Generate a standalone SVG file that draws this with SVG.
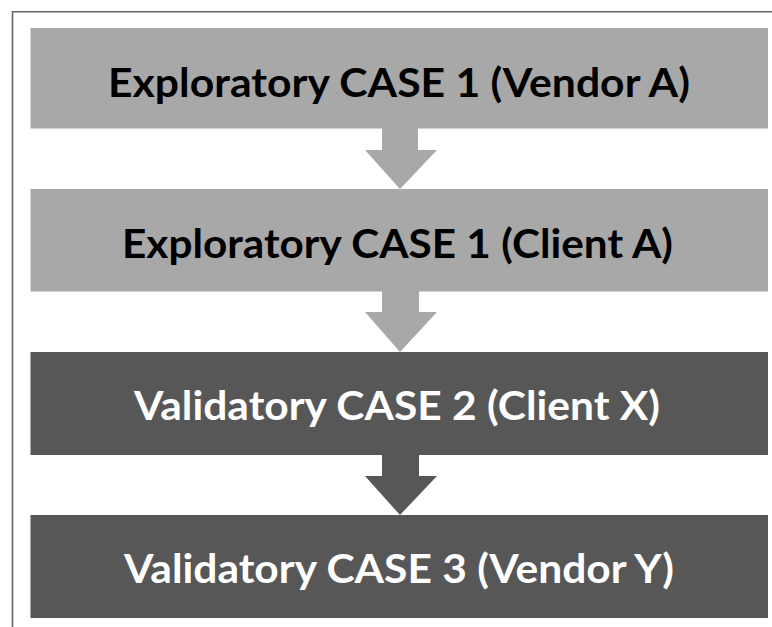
<svg xmlns="http://www.w3.org/2000/svg" width="772" height="627" viewBox="0 0 772 627">
  <style>
    .frame { fill: none; stroke: #666666; stroke-width: 1.6; }
    .light { fill: #a8a8a8; }
    .dark { fill: #575757; }
    .label { font-family: Lato, "Open Sans", "Liberation Sans", sans-serif; font-weight: bold; font-size: 40px; text-anchor: middle; }
    .on-light { fill: #000000; }
    .on-dark { fill: #ffffff; }
  </style>

  <rect x="0" y="0" width="772" height="627" fill="#ffffff"/>
  <!-- outer frame: top and left edges -->
  <path class="frame" d="M12.5 627 V11.7 H772"/>

  <g id="connectors">
    <path class="light" d="M382 128 H418 V150 H437 L400 189 L365 150 H382 Z"/>
    <path class="light" d="M382 291 H419 V312 H437 L400 352 L365 312 H382 Z"/>
    <path class="dark" d="M382 455 H419 V476 H437 L400 515 L365 476 H382 Z"/>
  </g>

  <g id="node-exploratory-vendor-a">
    <rect class="light" x="30.5" y="28" width="737.5" height="100.5"/>
    <text class="label on-light" x="399" y="97" textLength="582" lengthAdjust="spacingAndGlyphs">Exploratory CASE 1 (Vendor A)</text>
  </g>

  <g id="node-exploratory-client-a">
    <rect class="light" x="30.5" y="189" width="737.5" height="102.5"/>
    <text class="label on-light" x="397.5" y="258" textLength="551" lengthAdjust="spacingAndGlyphs">Exploratory CASE 1 (Client A)</text>
  </g>

  <g id="node-validatory-client-x">
    <rect class="dark" x="30.5" y="352" width="737.5" height="103"/>
    <text class="label on-dark" x="397" y="420" textLength="526" lengthAdjust="spacingAndGlyphs">Validatory CASE 2 (Client X)</text>
  </g>

  <g id="node-validatory-vendor-y">
    <rect class="dark" x="30.5" y="515" width="737.5" height="103"/>
    <text class="label on-dark" x="399" y="583" textLength="550" lengthAdjust="spacingAndGlyphs">Validatory CASE 3 (Vendor Y)</text>
  </g>
</svg>
